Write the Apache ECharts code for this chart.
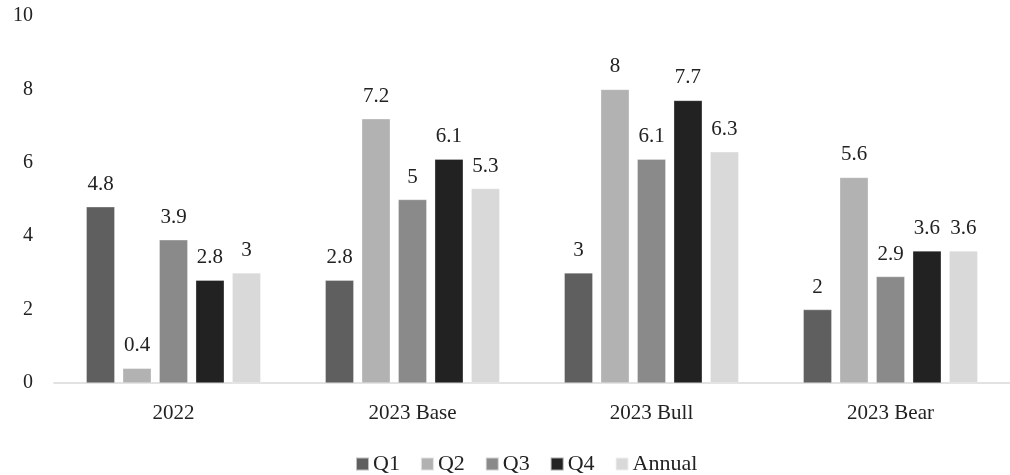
<!DOCTYPE html>
<html>
<head>
<meta charset="utf-8">
<script src="https://cdn.jsdelivr.net/npm/echarts@6/dist/echarts.min.js"></script>
<style>html,body{margin:0;padding:0;background:#fff}#c{width:1010px;height:475px}</style>
</head>
<body>
<div id="c"></div>
<script>
var categories = ['2022', '2023 Base', '2023 Bull', '2023 Bear'];
var seriesNames = ['Q1', 'Q2', 'Q3', 'Q4', 'Annual'];
var q1 = [4.8, 2.8, 3, 2];
var q2 = [0.4, 7.2, 8, 5.6];
var q3 = [3.9, 5, 6.1, 2.9];
var q4 = [2.8, 6.1, 7.7, 3.6];
var annual = [3, 5.3, 6.3, 3.6];
var colors = ['#5f5f5f', '#b2b2b2', '#8a8a8a', '#222222', '#d9d9d9'];
var yTicks = [0, 2, 4, 6, 8, 10];

var FONT = '"Liberation Serif", "Times New Roman", serif';
var values = [q1, q2, q3, q4, annual];
var chart = echarts.init(document.getElementById('c'), null, {renderer: 'canvas'});
chart.setOption({
  animation: false,
  textStyle: {fontFamily: FONT},
  color: colors,
  grid: {left: 54, right: -10, top: 16, bottom: 92},
  legend: {
    top: 448,
    left: 350,
    itemWidth: 13, itemHeight: 13, itemGap: 20,
    icon: 'rect',
    textStyle: {fontFamily: FONT, fontSize: 22, color: '#222', padding: [0, 0, 0, -1]},
    data: seriesNames
  },
  xAxis: {
    type: 'category',
    data: categories,
    axisLine: {lineStyle: {color: '#d9d9d9', width: 1.5}},
    axisTick: {show: false},
    axisLabel: {fontFamily: FONT, fontSize: 21, color: '#222', margin: 20}
  },
  yAxis: {
    type: 'value',
    min: yTicks[0], max: yTicks[yTicks.length - 1], interval: 2,
    splitLine: {show: false},
    axisLine: {show: false},
    axisTick: {show: false},
    axisLabel: {fontFamily: FONT, fontSize: 20, color: '#222', margin: 21}
  },
  series: seriesNames.map(function (n, i) {
    return {
      name: n,
      type: 'bar',
      data: values[i],
      barGap: '28%',
      barCategoryGap: '27%',
      itemStyle: {color: colors[i], borderColor: 'rgba(255,255,255,0.6)', borderWidth: 0.5},
      label: {show: true, position: 'top', distance: 12, fontFamily: FONT, fontSize: 21, color: '#222'}
    };
  })
});
</script>
</body>
</html>
